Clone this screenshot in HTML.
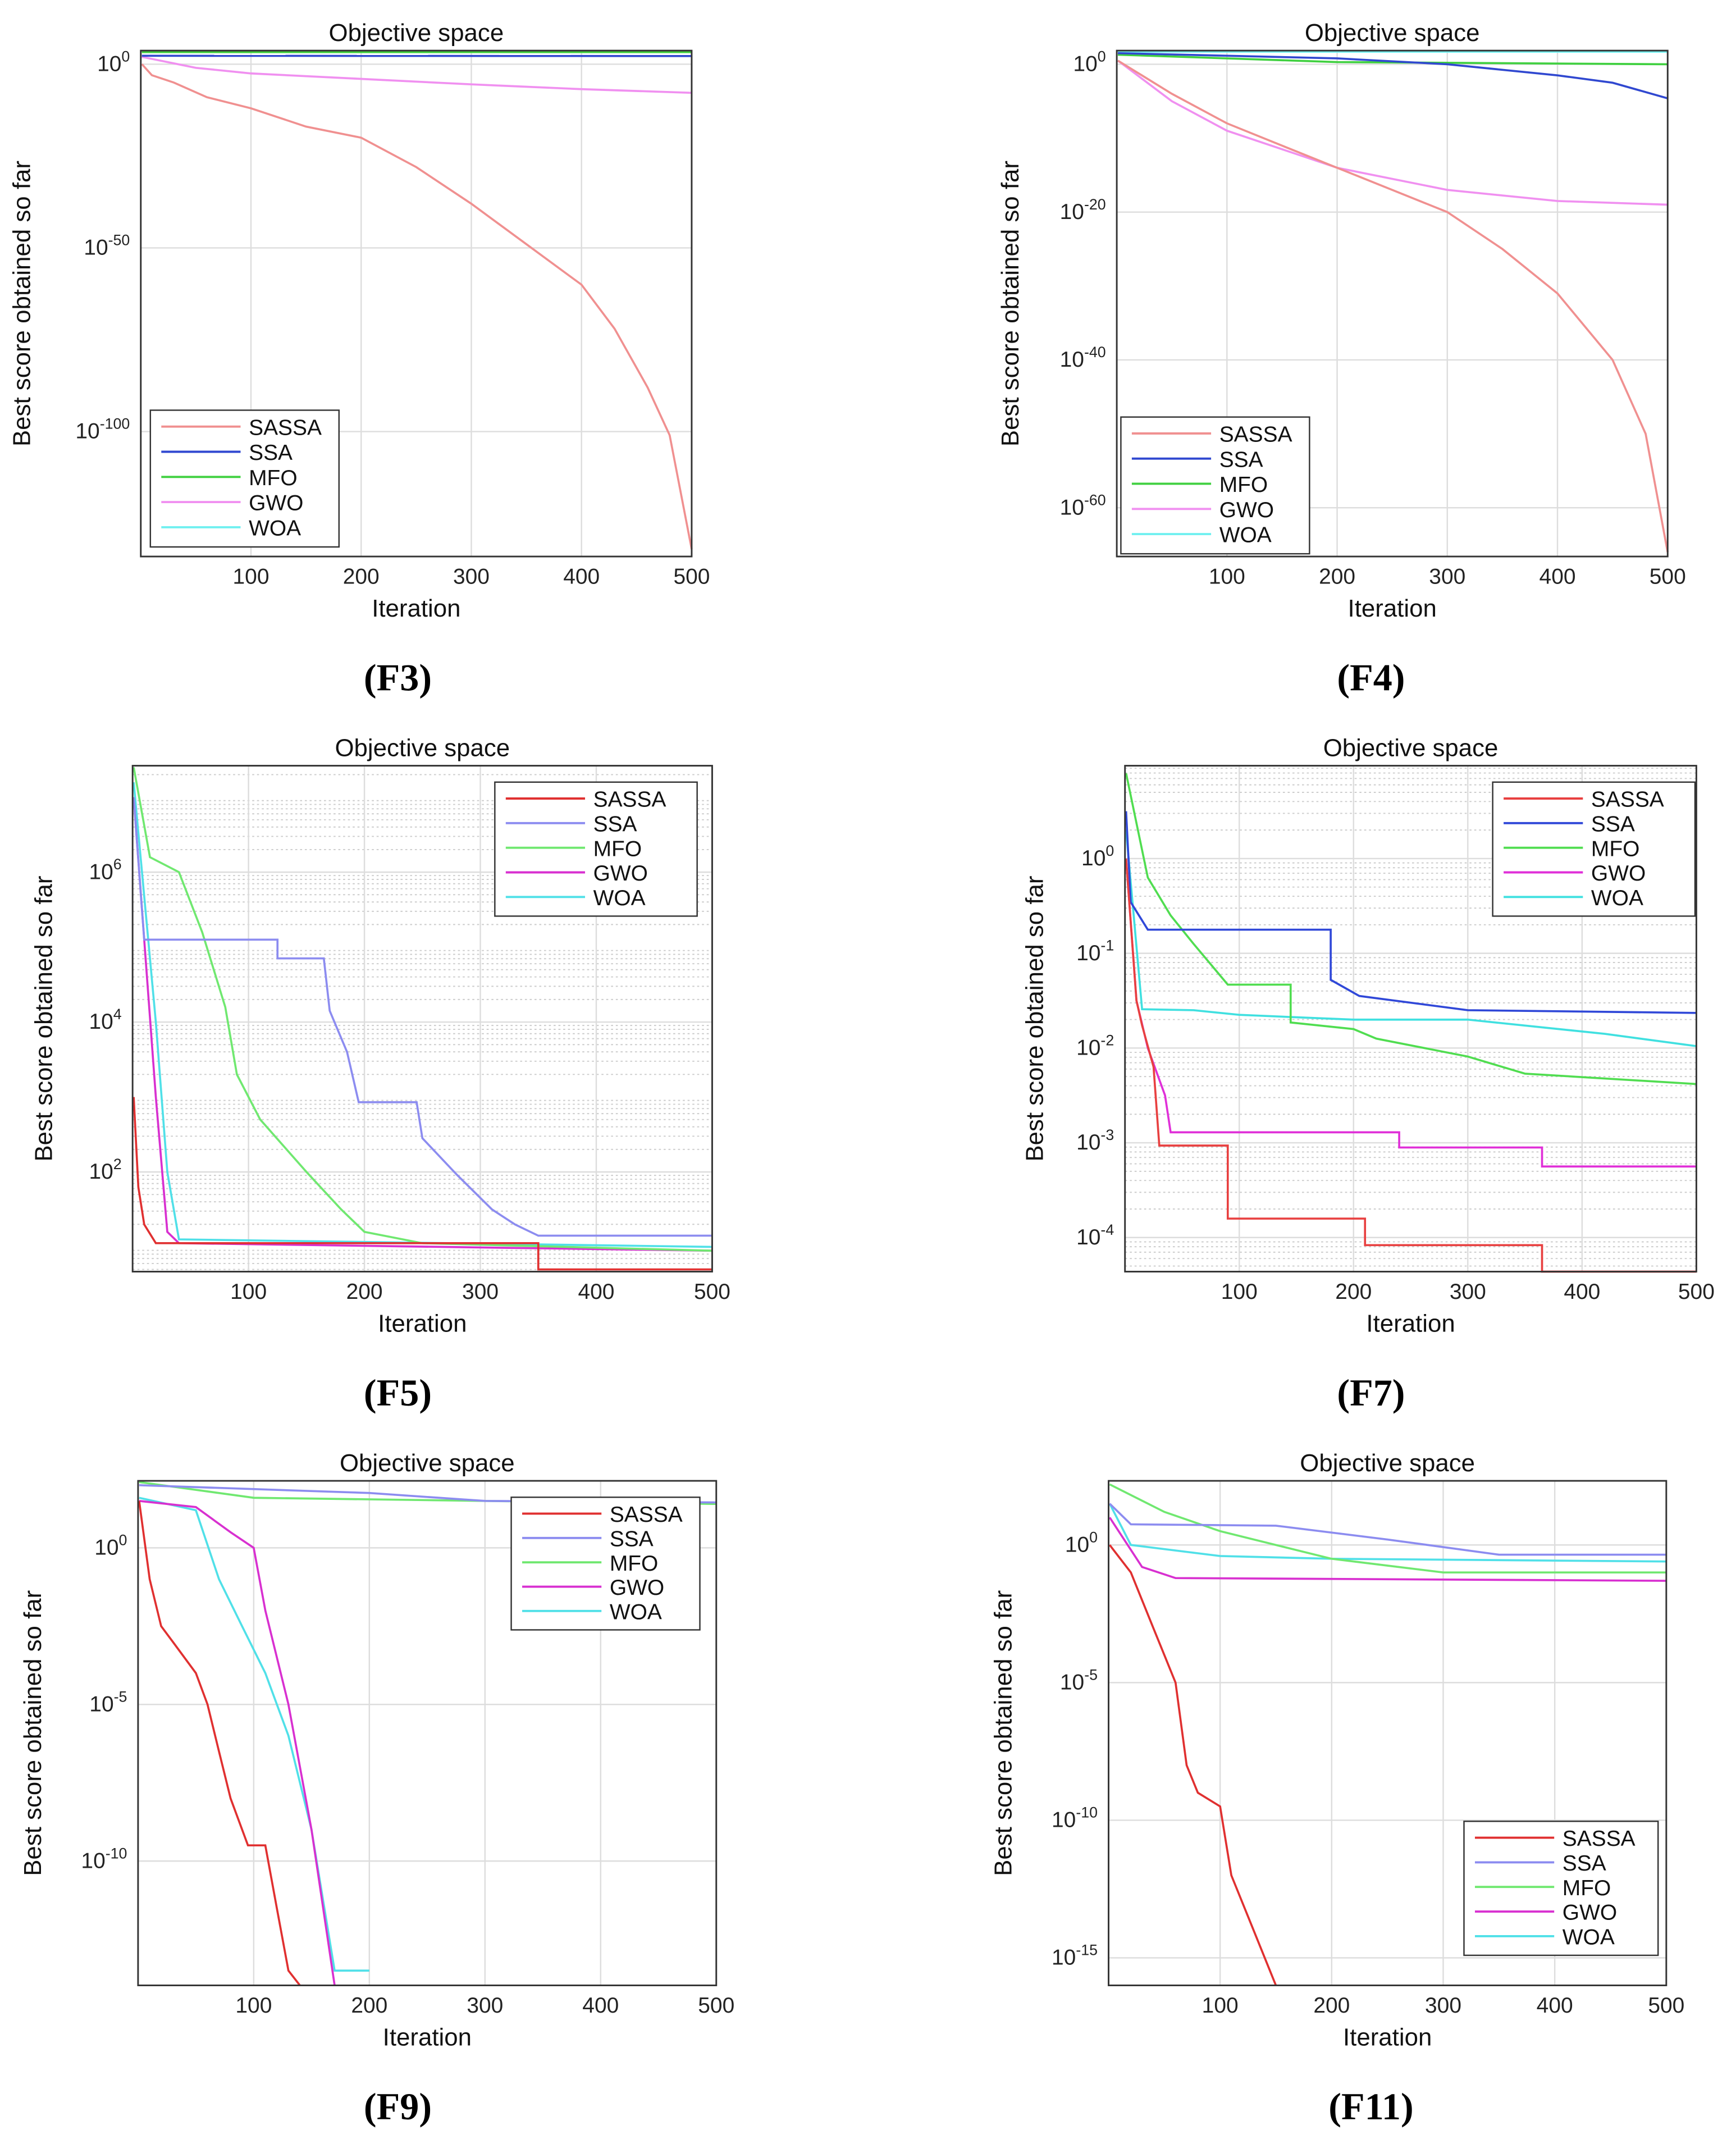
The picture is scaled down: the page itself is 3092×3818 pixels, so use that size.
<!DOCTYPE html>
<html><head><meta charset="utf-8"><style>
html,body{margin:0;padding:0;background:#fff}
svg{display:block}
text{font-family:"Liberation Sans",sans-serif}
text.serif{font-family:"Liberation Serif",serif}
</style></head><body>
<svg id="fig" width="3092" height="3818" viewBox="0 0 1270 1568" preserveAspectRatio="none" xmlns="http://www.w3.org/2000/svg"></svg>
<script>
// ---- data (iteration breakpoints and log10 best score) ----
const f3_sassa_it=[1,10,30,60,100,150,200,250,300,350,400,430,460,480,500];
const f3_sassa_lg=[0,-3,-5,-9,-12,-17,-20,-28,-38,-49,-60,-72,-88,-101,-132];
const f3_ssa_it=[1,500]; const f3_ssa_lg=[2.3,2.2];
const f3_mfo_it=[1,500]; const f3_mfo_lg=[3.3,3.3];
const f3_gwo_it=[1,50,100,200,300,400,500]; const f3_gwo_lg=[2,-1,-2.5,-4,-5.5,-6.8,-7.8];
const f3_woa_it=[1,500]; const f3_woa_lg=[3.6,3.6];

const f4_sassa_it=[1,50,100,150,200,250,300,350,400,450,480,500];
const f4_sassa_lg=[0.5,-4,-8,-11,-14,-17,-20,-25,-31,-40,-50,-66];
const f4_ssa_it=[1,200,300,400,450,500]; const f4_ssa_lg=[1.5,0.8,0,-1.5,-2.5,-4.6];
const f4_mfo_it=[1,200,500]; const f4_mfo_lg=[1.3,0.3,0];
const f4_gwo_it=[1,50,100,200,300,400,500]; const f4_gwo_lg=[0.5,-5,-9,-14,-17,-18.5,-19];
const f4_woa_it=[1,500]; const f4_woa_lg=[1.7,1.7];

const f5_sassa_it=[1,5,10,20,350,350,500]; const f5_sassa_lg=[3,1.8,1.3,1.05,1.05,0.7,0.7];
const f5_ssa_it=[1,10,125,125,165,170,185,195,245,250,280,310,330,350,500];
const f5_ssa_lg=[7,5.1,5.1,4.85,4.85,4.15,3.6,2.93,2.93,2.45,1.96,1.5,1.3,1.15,1.15];
const f5_mfo_it=[1,15,40,60,80,90,110,150,180,200,250,500];
const f5_mfo_lg=[7.4,6.2,6.0,5.2,4.2,3.3,2.7,2.0,1.5,1.2,1.05,0.95];
const f5_gwo_it=[1,20,30,40,500]; const f5_gwo_lg=[7,3,1.2,1.05,0.95];
const f5_woa_it=[1,20,30,40,500]; const f5_woa_lg=[7.2,4,2,1.1,1.0];

const f7_sassa_it=[1,10,15,25,30,90,90,210,210,365,365,500];
const f7_sassa_lg=[0,-1.5,-1.76,-2.2,-3.03,-3.03,-3.8,-3.8,-4.08,-4.08,-4.36,-4.36];
const f7_ssa_it=[1,5,20,180,180,205,300,500]; const f7_ssa_lg=[0.5,-0.46,-0.75,-0.75,-1.28,-1.45,-1.6,-1.63];
const f7_mfo_it=[1,20,40,60,90,145,145,200,220,300,350,500];
const f7_mfo_lg=[0.9,-0.2,-0.6,-0.9,-1.33,-1.33,-1.73,-1.8,-1.9,-2.09,-2.27,-2.38];
const f7_gwo_it=[1,10,20,35,40,240,240,365,365,500];
const f7_gwo_lg=[0,-1.5,-2,-2.5,-2.89,-2.89,-3.05,-3.05,-3.25,-3.25];
const f7_woa_it=[1,15,60,100,200,300,420,500]; const f7_woa_lg=[0.3,-1.59,-1.6,-1.65,-1.7,-1.7,-1.85,-1.98];

const f9_sassa_it=[1,10,20,30,50,60,70,80,95,110,120,130,140];
const f9_sassa_lg=[1.5,-1,-2.5,-3,-4,-5,-6.5,-8,-9.5,-9.5,-11.5,-13.5,-14];
const f9_ssa_it=[1,200,300,500]; const f9_ssa_lg=[2.0,1.75,1.5,1.45];
const f9_mfo_it=[1,100,300,500]; const f9_mfo_lg=[2.1,1.6,1.5,1.4];
const f9_gwo_it=[1,50,80,100,110,130,150,170]; const f9_gwo_lg=[1.5,1.3,0.5,0,-2,-5,-9,-14];
const f9_woa_it=[1,50,70,90,110,130,150,170,200]; const f9_woa_lg=[1.6,1.2,-1,-2.5,-4,-6,-9,-13.5,-13.5];

const f11_sassa_it=[1,20,40,50,60,70,80,100,110,130,150];
const f11_sassa_lg=[0,-1,-3,-4,-5,-8,-9,-9.5,-12,-14,-16];
const f11_ssa_it=[1,20,150,250,350,500]; const f11_ssa_lg=[1.5,0.75,0.7,0.2,-0.35,-0.35];
const f11_mfo_it=[1,50,100,200,300,500]; const f11_mfo_lg=[2.2,1.2,0.5,-0.5,-1.0,-1.0];
const f11_gwo_it=[1,30,60,500]; const f11_gwo_lg=[1,-0.8,-1.2,-1.3];
const f11_woa_it=[1,20,100,200,500]; const f11_woa_lg=[1.5,0,-0.4,-0.5,-0.6];

const seriesNames=["SASSA","SSA","MFO","GWO","WOA"];
const xTicks=[100,200,300,400,500];

const NS="http://www.w3.org/2000/svg";
const svg=document.getElementById('fig');
function mk(tag,attrs,parent){const e=document.createElementNS(NS,tag);for(const k in attrs)e.setAttribute(k,attrs[k]);(parent||svg).appendChild(e);return e;}

const panels=[
 {id:"f3",label:"(F3)",x0:103,x1:506,y0:37,y1:407,top:3.7,bot:-134,ticks:[0,-50,-100],minor:false,ylx:22,
  leg:[110,300,138,100],light:true,
  data:[[f3_sassa_it,f3_sassa_lg],[f3_ssa_it,f3_ssa_lg],[f3_mfo_it,f3_mfo_lg],[f3_gwo_it,f3_gwo_lg],[f3_woa_it,f3_woa_lg]]},
 {id:"f4",label:"(F4)",x0:817,x1:1220,y0:37,y1:407,top:1.85,bot:-66.6,ticks:[0,-20,-40,-60],minor:false,ylx:745,
  leg:[820,305,138,100],light:true,
  data:[[f4_sassa_it,f4_sassa_lg],[f4_ssa_it,f4_ssa_lg],[f4_mfo_it,f4_mfo_lg],[f4_gwo_it,f4_gwo_lg],[f4_woa_it,f4_woa_lg]]},
 {id:"f5",label:"(F5)",x0:97,x1:521,y0:560,y1:930,top:7.42,bot:0.67,ticks:[2,4,6],minor:true,ylx:38,
  leg:[362,572,148,98],
  data:[[f5_sassa_it,f5_sassa_lg],[f5_ssa_it,f5_ssa_lg],[f5_mfo_it,f5_mfo_lg],[f5_gwo_it,f5_gwo_lg],[f5_woa_it,f5_woa_lg]]},
 {id:"f7",label:"(F7)",x0:823,x1:1241,y0:560,y1:930,top:0.98,bot:-4.36,ticks:[0,-1,-2,-3,-4],minor:true,ylx:763,
  leg:[1092,572,148,98],
  data:[[f7_sassa_it,f7_sassa_lg],[f7_ssa_it,f7_ssa_lg],[f7_mfo_it,f7_mfo_lg],[f7_gwo_it,f7_gwo_lg],[f7_woa_it,f7_woa_lg]]},
 {id:"f9",label:"(F9)",x0:101,x1:524,y0:1083,y1:1452,top:2.14,bot:-13.97,ticks:[0,-5,-10],minor:false,ylx:30,
  leg:[374,1095,138,97],
  data:[[f9_sassa_it,f9_sassa_lg],[f9_ssa_it,f9_ssa_lg],[f9_mfo_it,f9_mfo_lg],[f9_gwo_it,f9_gwo_lg],[f9_woa_it,f9_woa_lg]]},
 {id:"f11",label:"(F11)",x0:811,x1:1219,y0:1083,y1:1452,top:2.33,bot:-16.0,ticks:[0,-5,-10,-15],minor:false,ylx:740,
  leg:[1071,1332,142,98],
  data:[[f11_sassa_it,f11_sassa_lg],[f11_ssa_it,f11_ssa_lg],[f11_mfo_it,f11_mfo_lg],[f11_gwo_it,f11_gwo_lg],[f11_woa_it,f11_woa_lg]]}
];

const colsDark=["#e84040","#3048d8","#50dd50","#e030d8","#40e0e0"];
const colsF5=["#e03030","#8c8cf0","#70e870","#d830d0","#50e0e8"];
const colsLight=["#f09090","#3048d0","#40d040","#f090f0","#70f0f0"];

panels.forEach(p=>{
  const g=mk('g',{});
  
  
  const X=v=>p.x0+(v/500)*(p.x1-p.x0);
  const Y=l=>p.y0+(p.top-l)/(p.top-p.bot)*(p.y1-p.y0);
  if(p.minor){
    for(let d=Math.floor(p.bot);d<=Math.ceil(p.top);d++){
      for(let m=2;m<=9;m++){const l=d+Math.log10(m);if(l>p.bot&&l<p.top){
        const ln=mk('line',{x1:p.x0,x2:p.x1,y1:Y(l),y2:Y(l),stroke:'#ccc','stroke-width':0.8,'stroke-dasharray':'1.5,2'},g);
        }}
    }
  }
  xTicks.forEach(t=>{const ln=mk('line',{x1:X(t),x2:X(t),y1:p.y0,y2:p.y1,stroke:'#ddd','stroke-width':1},g);
    
    const tx=mk('text',{x:X(t),y:p.y1+20,'font-size':16,'text-anchor':'middle',fill:'#222'},g);tx.textContent=t;
    });
  p.ticks.forEach(t=>{const ln=mk('line',{x1:p.x0,x2:p.x1,y1:Y(t),y2:Y(t),stroke:'#ddd','stroke-width':1},g);
    
    const tx=mk('text',{x:p.x0-8,y:Y(t)+5,'font-size':16,'text-anchor':'end',fill:'#222'},g);
    
    const a=mk('tspan',{},tx);a.textContent='10';const b=mk('tspan',{dy:-7,'font-size':11},tx);b.textContent=String(t);});
  const cols=p.light?colsLight:(p.id==="f5"||p.id==="f9"||p.id==="f11")?colsF5:colsDark;
  const order=[4,3,2,1,0];
  order.forEach(i=>{const [it,lg]=p.data[i];
    const pts=it.map((v,k)=>X(v).toFixed(1)+','+Y(Math.max(lg[k],p.bot)).toFixed(1)).join(' ');
    const pl=mk('polyline',{points:pts,fill:'none',stroke:cols[i],'stroke-width':1.5},g);
    });
  const bx=mk('rect',{x:p.x0,y:p.y0,width:p.x1-p.x0,height:p.y1-p.y0,fill:'none',stroke:'#333','stroke-width':1.2},g);
  
  const cx=(p.x0+p.x1)/2;
  const tt=mk('text',{x:cx,y:p.y0-7,'font-size':18,'text-anchor':'middle',fill:'#111'},g);tt.textContent='Objective space';
  
  const xl=mk('text',{x:cx,y:p.y1+44,'font-size':18,'text-anchor':'middle',fill:'#111'},g);xl.textContent='Iteration';
  
  const cy=(p.y0+p.y1)/2;
  const yl=mk('text',{x:p.ylx,y:cy,'font-size':18,'text-anchor':'middle',fill:'#111',transform:`rotate(-90 ${p.ylx} ${cy})`},g);
  yl.textContent='Best score obtained so far';
  
  const fl=mk('text',{x:(p.x0<700?291:1003),y:p.y1+98,'font-size':28,'font-weight':'bold','text-anchor':'middle',fill:'#000','class':'serif'},g);
  fl.textContent=p.label;
  
  const [lx,ly,lw,lh]=p.leg;
  const lg=mk('g',{},g);
  mk('rect',{x:lx,y:ly,width:lw,height:lh,fill:'#fff',stroke:'#333','stroke-width':1},lg);
  seriesNames.forEach((n,i)=>{const yy=ly+12+i*(lh-8)/5;
    const ln=mk('line',{x1:lx+8,x2:lx+66,y1:yy,y2:yy,stroke:cols[i],'stroke-width':1.6},lg);
    
    const tx=mk('text',{x:lx+72,y:yy+6,'font-size':16,fill:'#111'},lg);tx.textContent=n;
    });
});
</script>
</body></html>
